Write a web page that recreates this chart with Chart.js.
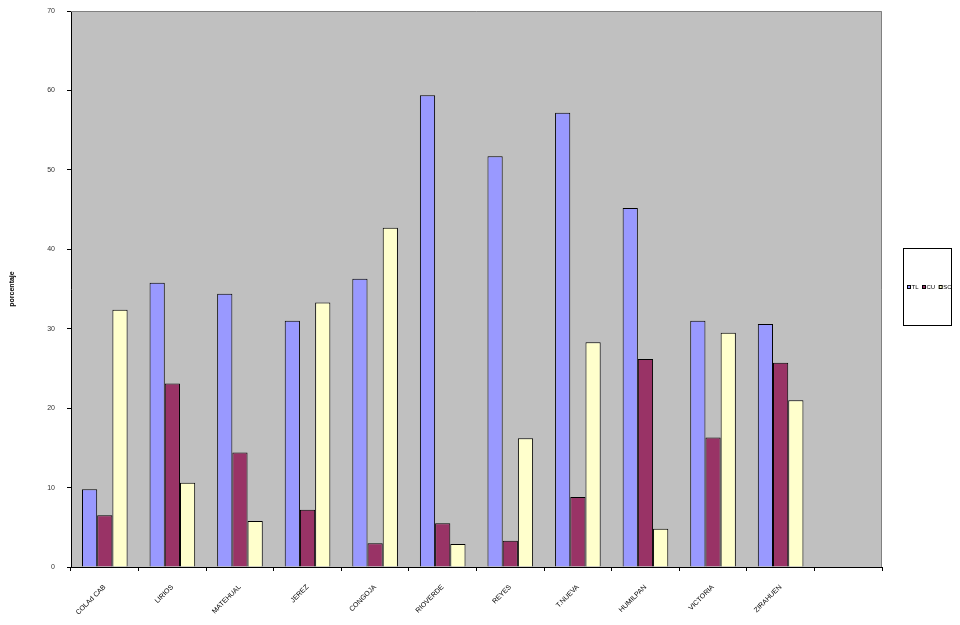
<!DOCTYPE html>
<html>
<head>
<meta charset="utf-8">
<script src="https://cdn.jsdelivr.net/npm/chart.js@4/dist/chart.umd.min.js"></script>
<style>
  html, body { margin: 0; padding: 0; background: #fff; }
  #wrap { width: 960px; height: 625px; }
</style>
</head>
<body>
<div id="wrap"><canvas id="chart"></canvas></div>
<script>
// data
var sites = ['COLAd CAB', 'LIRIOS', 'MATEHUAL', 'JEREZ', 'CONGOJA', 'RIOVERDE', 'REYES', 'T.NUEVA', 'HUMILPAN', 'VICTORIA', 'ZIRAHUEN', ''];
var tlValues = [9.8, 35.8, 34.4, 31.0, 36.3, 59.4, 51.7, 57.2, 45.2, 31.0, 30.6];
var cuValues = [6.5, 23.1, 14.4, 7.2, 3.0, 5.5, 3.3, 8.8, 26.2, 16.3, 25.7];
var scValues = [32.4, 10.6, 5.8, 33.3, 42.7, 2.9, 16.2, 28.3, 4.8, 29.5, 21.0];
var seriesNames = ['TL', 'CU', 'SC'];
var yTicks = [0, 10, 20, 30, 40, 50, 60, 70];

var colors = ['#9999FF', '#993366', '#FFFFCC'];
var FONT = 'Arial, "Liberation Sans", sans-serif';

// grey plot area with a thin frame on top and right
var plotBackground = {
  id: 'plotBackground',
  beforeDraw: function(chart) {
    var a = chart.chartArea, ctx = chart.ctx;
    ctx.save();
    ctx.fillStyle = '#C0C0C0';
    ctx.fillRect(a.left, a.top, a.right - a.left, a.bottom - a.top);
    ctx.restore();
  },
  afterDatasetsDraw: function(chart) {
    var a = chart.chartArea, ctx = chart.ctx;
    ctx.save();
    ctx.strokeStyle = '#808080';
    ctx.lineWidth = 1;
    ctx.beginPath();
    ctx.moveTo(a.left, a.top + 0.5);
    ctx.lineTo(a.right - 0.5, a.top + 0.5);
    ctx.lineTo(a.right - 0.5, a.bottom);
    ctx.stroke();
    ctx.restore();
  }
};

// Excel style legend: a tall box, entries in one row
var boxLegend = {
  id: 'boxLegend',
  afterDraw: function(chart) {
    var a = chart.chartArea, ctx = chart.ctx;
    var x0 = a.right + 21, y0 = 248, w = 48, h = 77;
    ctx.save();
    ctx.fillStyle = '#fff';
    ctx.fillRect(x0, y0, w, h);
    ctx.strokeStyle = '#000';
    ctx.lineWidth = 1;
    ctx.strokeRect(x0 + 0.5, y0 + 0.5, w, h);
    ctx.font = '6px ' + FONT;
    ctx.textBaseline = 'middle';
    var x = x0 + 4, y = y0 + 39;
    chart.data.datasets.forEach(function(ds) {
      ctx.fillStyle = ds.backgroundColor;
      ctx.fillRect(x, y - 2, 4, 4);
      ctx.strokeStyle = '#000';
      ctx.strokeRect(x + 0.5, y - 1.5, 3, 3);
      ctx.fillStyle = '#000';
      ctx.fillText(ds.label, x + 4.5, y);
      x += 4.5 + ctx.measureText(ds.label).width + 3.5;
    });
    ctx.restore();
  }
};

function makeSet(i, values) {
  return {
    label: seriesNames[i],
    data: values,
    backgroundColor: colors[i],
    borderColor: '#000',
    borderWidth: 1,
    borderSkipped: 'bottom',
    categoryPercentage: 0.675,
    barPercentage: 1
  };
}

new Chart(document.getElementById('chart'), {
  type: 'bar',
  data: {
    labels: sites,
    datasets: [makeSet(0, tlValues), makeSet(1, cuValues), makeSet(2, scValues)]
  },
  options: {
    responsive: true,
    maintainAspectRatio: false,
    animation: false,
    layout: { padding: { top: 11, right: 78, left: 0, bottom: 0 } },
    plugins: {
      legend: { display: false },
      tooltip: { enabled: false }
    },
    scales: {
      x: {
        grid: { drawOnChartArea: false, drawTicks: true, tickLength: 4, color: '#000', offset: true },
        border: { color: '#000', width: 1 },
        ticks: {
          autoSkip: false,
          maxRotation: 45,
          minRotation: 45,
          padding: 12,
          color: '#000',
          font: { family: FONT, size: 7 }
        },
        afterFit: function(scale) { scale.height = 58; }
      },
      y: {
        min: 0,
        max: 70,
        afterBuildTicks: function(scale) {
          scale.ticks = yTicks.map(function(v) { return { value: v }; });
        },
        grid: { drawOnChartArea: false, drawTicks: true, tickLength: 4, color: '#000' },
        border: { color: '#000', width: 1 },
        ticks: {
          padding: 12,
          color: '#333',
          font: { family: FONT, size: 7 }
        },
        title: {
          display: true,
          text: 'porcentaje',
          color: '#000',
          padding: { top: 8, bottom: 0 },
          font: { family: FONT, size: 7, weight: 'bold' }
        },
        afterFit: function(scale) {
          scale.width = 71;
          // tick padding would otherwise push the plot top down
          scale.paddingTop = 0;
          scale.paddingBottom = 0;
        }
      }
    }
  },
  plugins: [plotBackground, boxLegend]
});
</script>
</body>
</html>
